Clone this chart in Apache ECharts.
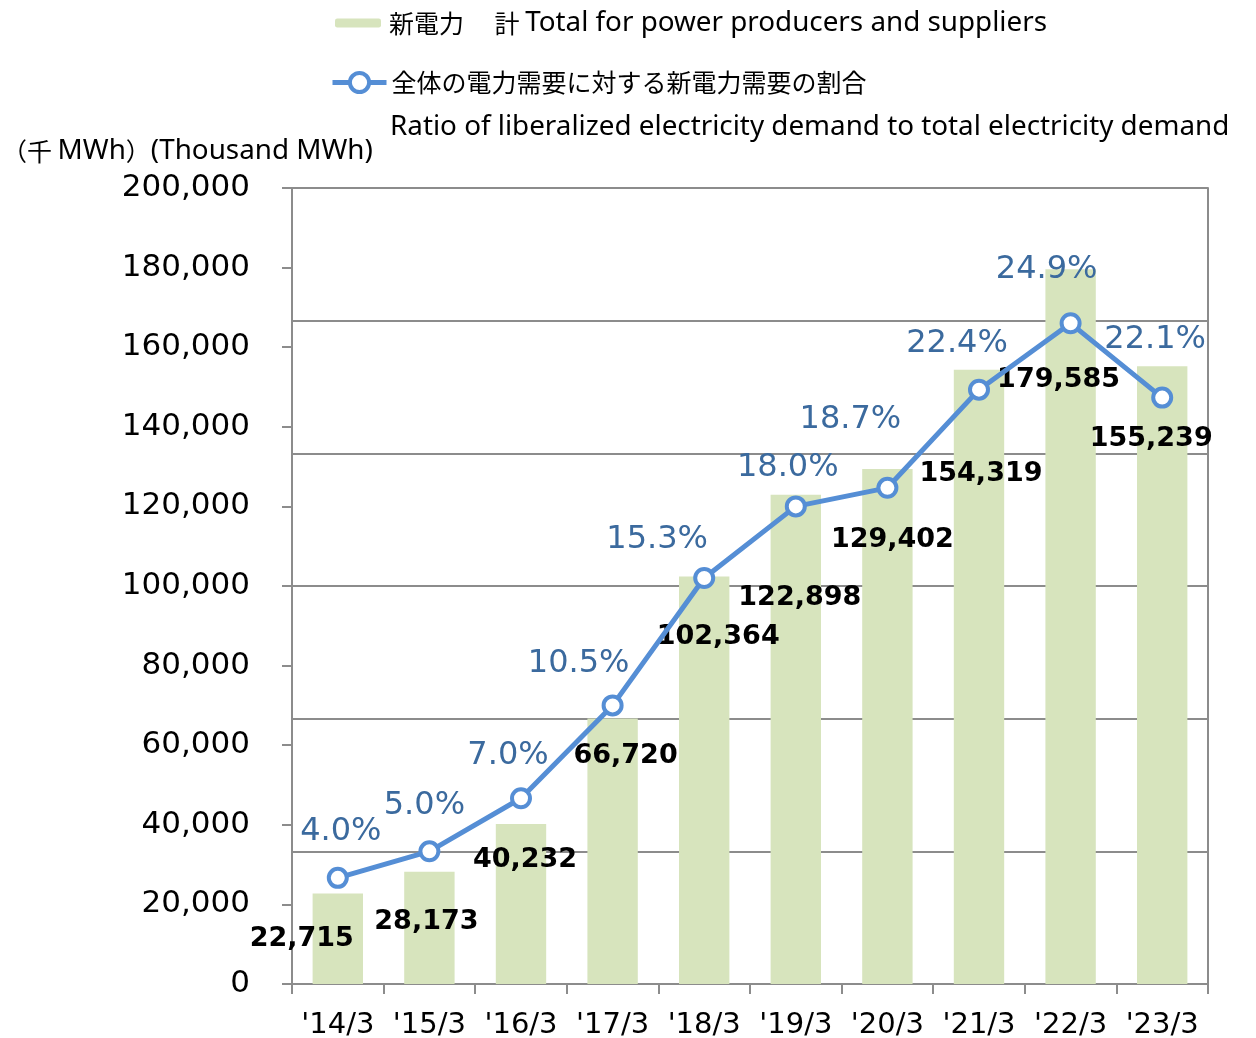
<!DOCTYPE html>
<html>
<head>
<meta charset="utf-8">
<script src="https://cdn.jsdelivr.net/npm/echarts@6/dist/echarts.min.js"></script>
<style>
  html, body { margin: 0; padding: 0; background: #fff; }
  #main { width: 1256px; height: 1038px; }
</style>
</head>
<body>
<div id="main"></div>
<script>
const categories = ["'14/3", "'15/3", "'16/3", "'17/3", "'18/3", "'19/3", "'20/3", "'21/3", "'22/3", "'23/3"];
const demand = [22715, 28173, 40232, 66720, 102364, 122898, 129402, 154319, 179585, 155239];
const ratio = [4.0, 5.0, 7.0, 10.5, 15.3, 18.0, 18.7, 22.4, 24.9, 22.1];

const barName = '新電力  計 Total for power producers and suppliers';
const lineName = '全体の電力需要に対する新電力需要の割合';

// label nudges (px), like the hand-placed labels in the original
const barLabelShift = [[-36, 45], [-3, 50], [4, 36], [13, 38], [14, 60], [4, 103], [5, 71], [2, 104], [-12, 111], [-11, 73]];
const lineLabelShift = [[3, -35], [-5, -35], [-13, -32], [-34, -31], [-47, -27], [-8, -28], [-37, -57], [-22, -35], [-24, -43], [-7, -47]];

const numFont = 'DejaVu Sans';
const jpFont = "'Noto Sans CJK JP'";
const enFont = "'Noto Sans'";
const gray = '#8c8c8c';
const blue = '#558ed5';

const jpText = { fontFamily: jpFont, fontSize: 25, fontWeight: 'normal', color: '#000' };
const enText = { fontFamily: enFont, fontSize: 27.8, fontWeight: 'normal', color: '#000' };

const myChart = echarts.init(document.getElementById('main'));

const option = {
  animation: false,
  title: {
    text: '{jp|（千 }{en|MWh}{jp|）}{en|(Thousand MWh)}',
    left: 2,
    top: 137,
    padding: 0,
    textStyle: { fontWeight: 'normal', rich: { jp: jpText, en: enText } },
  },
  legend: [
    {
      data: [barName],
      left: 330,
      top: 4,
      itemWidth: 46,
      itemHeight: 9,
      formatter: () => '{jp|新電力　 計 }{en|Total for power producers and suppliers}',
      textStyle: {
        rich: { jp: Object.assign({ padding: [0, 0, 0, 3] }, jpText), en: enText },
      },
    },
    {
      data: [lineName],
      left: 325,
      top: 65,
      itemWidth: 54,
      itemHeight: 24,
      lineStyle: { color: blue, width: 5 },
      itemStyle: { color: '#fff', borderColor: blue, borderWidth: 4 },
      textStyle: jpText,
    },
  ],
  graphic: [
    {
      type: 'text',
      x: 390,
      y: 127,
      style: {
        text: 'Ratio of liberalized electricity demand to total electricity demand',
        font: "27.8px 'Noto Sans'",
        fill: '#000',
        verticalAlign: 'middle',
      },
    },
  ],
  grid: { left: 292, right: 48, top: 188, bottom: 54, outerBoundsMode: 'none' },
  xAxis: {
    type: 'category',
    data: categories,
    axisLine: { lineStyle: { color: gray, width: 2 } },
    axisTick: { show: true, interval: 0, length: 10, lineStyle: { color: gray, width: 2 } },
    axisLabel: { interval: 0, fontFamily: numFont, fontSize: 29, color: '#000', margin: 27 },
  },
  yAxis: [
    {
      type: 'value',
      min: 0,
      max: 200000,
      interval: 20000,
      splitLine: { show: false },
      axisLine: { show: true, lineStyle: { color: gray, width: 2 } },
      axisTick: { show: true, length: 10, lineStyle: { color: gray, width: 2 } },
      axisLabel: {
        fontFamily: numFont,
        fontSize: 31,
        color: '#000',
        margin: 42,
        padding: [5, 0, 0, 0],
        formatter: (v) => v.toLocaleString('en-US'),
      },
    },
    {
      type: 'value',
      min: 0,
      max: 30,
      interval: 5,
      position: 'right',
      axisLabel: { show: false },
      axisTick: { show: false },
      axisLine: { show: true, lineStyle: { color: gray, width: 2 } },
      splitLine: { show: true, lineStyle: { color: gray, width: 2 } },
    },
  ],
  series: [
    {
      name: barName,
      type: 'bar',
      yAxisIndex: 0,
      barWidth: '55%',
      itemStyle: { color: '#d7e4bd' },
      data: demand.map((v, i) => ({
        value: v,
        label: { offset: barLabelShift[i] },
      })),
      label: {
        show: true,
        position: 'top',
        distance: 0,
        align: 'center',
        verticalAlign: 'middle',
        fontFamily: numFont,
        fontWeight: 'bold',
        fontSize: 27,
        color: '#000',
        formatter: (p) => p.value.toLocaleString('en-US'),
      },
    },
    {
      name: lineName,
      type: 'line',
      yAxisIndex: 1,
      symbol: 'circle',
      symbolSize: 18,
      lineStyle: { color: blue, width: 5 },
      itemStyle: { color: '#fff', borderColor: blue, borderWidth: 4 },
      data: ratio.map((v, i) => ({
        value: v,
        label: { offset: lineLabelShift[i] },
      })),
      label: {
        show: true,
        position: 'top',
        distance: 0,
        align: 'center',
        verticalAlign: 'middle',
        fontFamily: numFont,
        fontSize: 32,
        color: '#3b6a9e',
        formatter: (p) => p.value.toFixed(1) + '%',
      },
      z: 3,
    },
  ],
};

myChart.setOption(option);
</script>
</body>
</html>
